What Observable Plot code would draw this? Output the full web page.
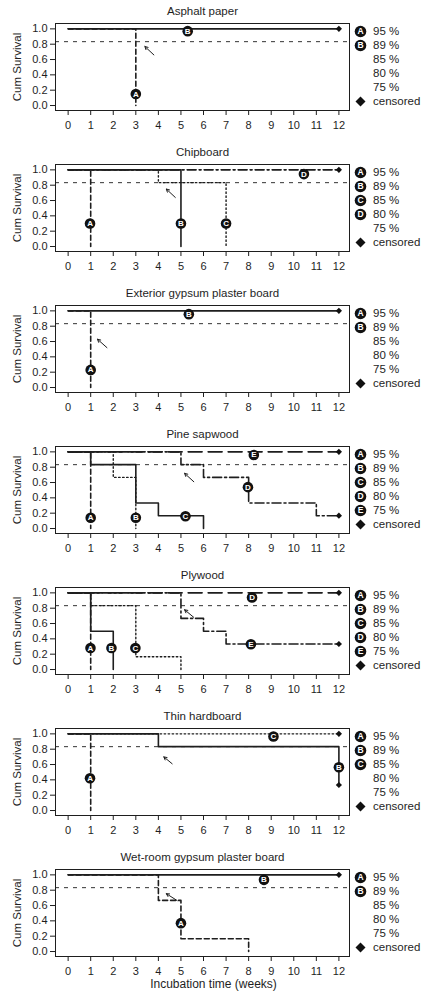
<!DOCTYPE html>
<html>
<head>
<meta charset="utf-8">
<script src="https://cdn.jsdelivr.net/npm/d3@7"></script>
<script src="https://cdn.jsdelivr.net/npm/@observablehq/plot@0.6"></script>
<style>
  body { margin: 0; background: #fff; }
  #chart { width: 425px; }
  #chart svg { display: block; }
</style>
</head>
<body>
<div id="chart"></div>
<script>
// Axis ticks and legend entries
const weekTicks = [0, 1, 2, 3, 4, 5, 6, 7, 8, 9, 10, 11, 12];
const survivalTicks = [0, 0.2, 0.4, 0.6, 0.8, 1.0];
const groups = ["A", "B", "C", "D", "E"];
const humidity = ["95 %", "89 %", "85 %", "80 %", "75 %"];
const referenceSurvival = 0.833;

// Kaplan–Meier curves: survival after each failure time (step-after)
const asphaltCurves = [
  {group: "A", time: [0, 3], surv: [1, 0]},
  {group: "B", time: [0, 12], surv: [1, 1], censored: true}
];
const asphaltLabels = [
  {group: "A", time: 3, surv: 0.15},
  {group: "B", time: 5.3, surv: 0.97}
];
const asphaltArrow = [{x1: 3.8, y1: 0.66, x2: 3.4, y2: 0.77}];

const chipboardCurves = [
  {group: "A", time: [0, 1], surv: [1, 0]},
  {group: "B", time: [0, 5], surv: [1, 0]},
  {group: "C", time: [0, 4, 7], surv: [1, 0.833, 0]},
  {group: "D", time: [0, 12], surv: [1, 1], censored: true}
];
const chipboardLabels = [
  {group: "A", time: 0.97, surv: 0.3},
  {group: "B", time: 5, surv: 0.3},
  {group: "C", time: 7, surv: 0.3},
  {group: "D", time: 10.45, surv: 0.945}
];
const chipboardArrow = [{x1: 4.75, y1: 0.64, x2: 4.35, y2: 0.75}];

const exteriorCurves = [
  {group: "A", time: [0, 1], surv: [1, 0]},
  {group: "B", time: [0, 12], surv: [1, 1], censored: true}
];
const exteriorLabels = [
  {group: "A", time: 1, surv: 0.23},
  {group: "B", time: 5.35, surv: 0.957}
];
const exteriorArrow = [{x1: 1.72, y1: 0.52, x2: 1.3, y2: 0.63}];

const pineCurves = [
  {group: "A", time: [0, 1], surv: [1, 0]},
  {group: "B", time: [0, 2, 3], surv: [1, 0.667, 0]},
  {group: "C", time: [0, 1, 3, 4, 6], surv: [1, 0.833, 0.333, 0.167, 0]},
  {group: "D", time: [0, 5, 6, 8, 11, 12], surv: [1, 0.833, 0.667, 0.333, 0.167, 0.167], censored: true},
  {group: "E", time: [0, 12], surv: [1, 1], censored: true}
];
const pineLabels = [
  {group: "A", time: 1, surv: 0.14},
  {group: "B", time: 3, surv: 0.14},
  {group: "C", time: 5.2, surv: 0.16},
  {group: "D", time: 7.97, surv: 0.54},
  {group: "E", time: 8.23, surv: 0.96}
];
const pineArrow = [{x1: 5.57, y1: 0.61, x2: 5.16, y2: 0.72}];

const plywoodCurves = [
  {group: "A", time: [0, 1], surv: [1, 0]},
  {group: "B", time: [0, 1, 2], surv: [1, 0.5, 0]},
  {group: "C", time: [0, 1, 3, 5], surv: [1, 0.833, 0.167, 0]},
  {group: "D", time: [0, 12], surv: [1, 1], censored: true},
  {group: "E", time: [0, 5, 6, 7, 12], surv: [1, 0.667, 0.5, 0.333, 0.333], censored: true}
];
const plywoodLabels = [
  {group: "A", time: 0.99, surv: 0.28},
  {group: "B", time: 1.92, surv: 0.28},
  {group: "C", time: 2.98, surv: 0.28},
  {group: "D", time: 8.15, surv: 0.94},
  {group: "E", time: 8.1, surv: 0.33}
];
const plywoodArrow = [{x1: 5.57, y1: 0.68, x2: 5.16, y2: 0.78}];

const thinCurves = [
  {group: "A", time: [0, 1], surv: [1, 0]},
  {group: "B", time: [0, 4, 12], surv: [1, 0.833, 0.333], censored: true},
  {group: "C", time: [0, 12], surv: [1, 1], censored: true}
];
const thinLabels = [
  {group: "A", time: 0.97, surv: 0.42},
  {group: "B", time: 12, surv: 0.565},
  {group: "C", time: 9.1, surv: 0.965}
];
const thinArrow = [{x1: 4.61, y1: 0.61, x2: 4.24, y2: 0.7}];

const wetRoomCurves = [
  {group: "A", time: [0, 4, 5, 8], surv: [1, 0.667, 0.167, 0]},
  {group: "B", time: [0, 12], surv: [1, 1], censored: true}
];
const wetRoomLabels = [
  {group: "A", time: 5, surv: 0.37},
  {group: "B", time: 8.68, surv: 0.935}
];
const wetRoomArrow = [{x1: 4.83, y1: 0.665, x2: 4.35, y2: 0.755}];

// Line styles per humidity group
const lineStyle = {
  A: {strokeDasharray: "5,3"},
  B: {},
  C: {strokeDasharray: "1.5,2.5", strokeWidth: 1.4},
  D: {strokeDasharray: "9,3,2,3"},
  E: {strokeDasharray: "14,6"}
};
const pineStyle = {...lineStyle, B: lineStyle.C, C: lineStyle.B};
const plywoodStyle = {...lineStyle, D: lineStyle.E, E: lineStyle.D};

const panels = [
  {title: "Asphalt paper", curves: asphaltCurves, labels: asphaltLabels, arrow: asphaltArrow, style: lineStyle},
  {title: "Chipboard", curves: chipboardCurves, labels: chipboardLabels, arrow: chipboardArrow, style: lineStyle},
  {title: "Exterior gypsum plaster board", curves: exteriorCurves, labels: exteriorLabels, arrow: exteriorArrow, style: lineStyle},
  {title: "Pine sapwood", curves: pineCurves, labels: pineLabels, arrow: pineArrow, style: pineStyle},
  {title: "Plywood", curves: plywoodCurves, labels: plywoodLabels, arrow: plywoodArrow, style: plywoodStyle},
  {title: "Thin hardboard", curves: thinCurves, labels: thinLabels, arrow: thinArrow, style: lineStyle},
  {title: "Wet-room gypsum plaster board", curves: wetRoomCurves, labels: wetRoomLabels, arrow: wetRoomArrow, style: lineStyle}
];

const ink = "#1e1e1e";
const font = "'Liberation Sans', Arial, Helvetica, sans-serif";

function drawPanel(p, isLast) {
  const height = isLast ? 152 : 141;
  const frameBottom = 110;
  const marks = [];

  // Reference survival level
  marks.push(Plot.ruleY([referenceSurvival], {stroke: "#333", strokeWidth: 1, strokeDasharray: "4,5"}));

  // Survival step curves
  for (const c of p.curves) {
    const pts = c.time.map((t, i) => ({time: t, surv: c.surv[i]}));
    marks.push(Plot.line(pts, {
      x: "time", y: "surv", curve: "step-after",
      stroke: ink, strokeWidth: 1.6, ...p.style[c.group]
    }));
  }

  // Censored observations at the end of the follow-up
  const censored = p.curves.filter(c => c.censored)
    .map(c => ({time: c.time[c.time.length - 1], surv: c.surv[c.surv.length - 1]}));
  marks.push(Plot.dot(censored, {x: "time", y: "surv", symbol: "diamond2", r: 2.8, fill: "#111", stroke: "none"}));

  // Arrow pointing at the reference level
  marks.push(Plot.arrow(p.arrow, {x1: "x1", y1: "y1", x2: "x2", y2: "y2", stroke: ink, strokeWidth: 1, headLength: 5, headAngle: 55}));

  // Circled group letters on the curves
  marks.push(Plot.dot(p.labels, {x: "time", y: "surv", r: 5.3, fill: "#111", stroke: "none"}));
  marks.push(Plot.text(p.labels, {x: "time", y: "surv", text: "group", fill: "white", fontWeight: "bold", fontSize: 8}));

  marks.push(Plot.frame({stroke: ink, strokeWidth: 1}));

  // Axes
  marks.push(Plot.axisX(weekTicks, {tickSize: 5, tickPadding: 6, label: null, fontSize: 11}));
  marks.push(Plot.axisY(survivalTicks, {tickSize: 5, tickPadding: 3, tickFormat: d => d.toFixed(1), label: null, fontSize: 11}));
  marks.push(Plot.text(["Cum Survival"], {frameAnchor: "left", lineAnchor: "middle", textAnchor: "middle", rotate: -90, dx: -38, text: d => d, fontSize: 11.5, fill: ink}));

  // Panel title
  marks.push(Plot.text([p.title], {frameAnchor: "top", lineAnchor: "middle", textAnchor: "middle", dy: -12, text: d => d, fontSize: 11.5, fill: ink}));

  // Legend on the right
  const present = new Set(p.curves.map(c => c.group));
  humidity.forEach((h, i) => {
    const dy = 8 + 14 * i;
    if (present.has(groups[i])) {
      marks.push(Plot.dot([groups[i]], {frameAnchor: "top-right", dx: 11, dy, r: 5.8, fill: "#111", stroke: "none"}));
      marks.push(Plot.text([groups[i]], {frameAnchor: "top-right", lineAnchor: "middle", textAnchor: "middle", dx: 11, dy, text: d => d, fill: "white", fontWeight: "bold", fontSize: 8.5}));
    }
    marks.push(Plot.text([h], {frameAnchor: "top-right", lineAnchor: "middle", textAnchor: "start", dx: 23.5, dy, text: d => d, fontSize: 11.5, fill: ink}));
  });
  marks.push(Plot.dot(["censored"], {frameAnchor: "top-right", dx: 11, dy: 78, symbol: "diamond2", r: 4.5, fill: "#111", stroke: "none"}));
  marks.push(Plot.text(["censored"], {frameAnchor: "top-right", lineAnchor: "middle", textAnchor: "start", dx: 23.5, dy: 78, text: d => d, fontSize: 11.5, fill: ink}));

  if (isLast) {
    marks.push(Plot.text(["Incubation time (weeks)"], {frameAnchor: "bottom", lineAnchor: "middle", textAnchor: "middle", dx: 11, dy: 28, text: d => d, fontSize: 12, fill: ink}));
  }

  return Plot.plot({
    width: 425,
    height,
    marginLeft: 55,
    marginRight: 76,
    marginTop: 23,
    marginBottom: height - frameBottom,
    x: {domain: [-0.56, 12.47]},
    y: {domain: [-0.065, 1.07]},
    style: {fontFamily: font, fontSize: "11px", color: ink, background: "white"},
    marks
  });
}

const chart = document.getElementById("chart");
panels.forEach((p, i) => chart.appendChild(drawPanel(p, i === panels.length - 1)));
</script>
</body>
</html>
